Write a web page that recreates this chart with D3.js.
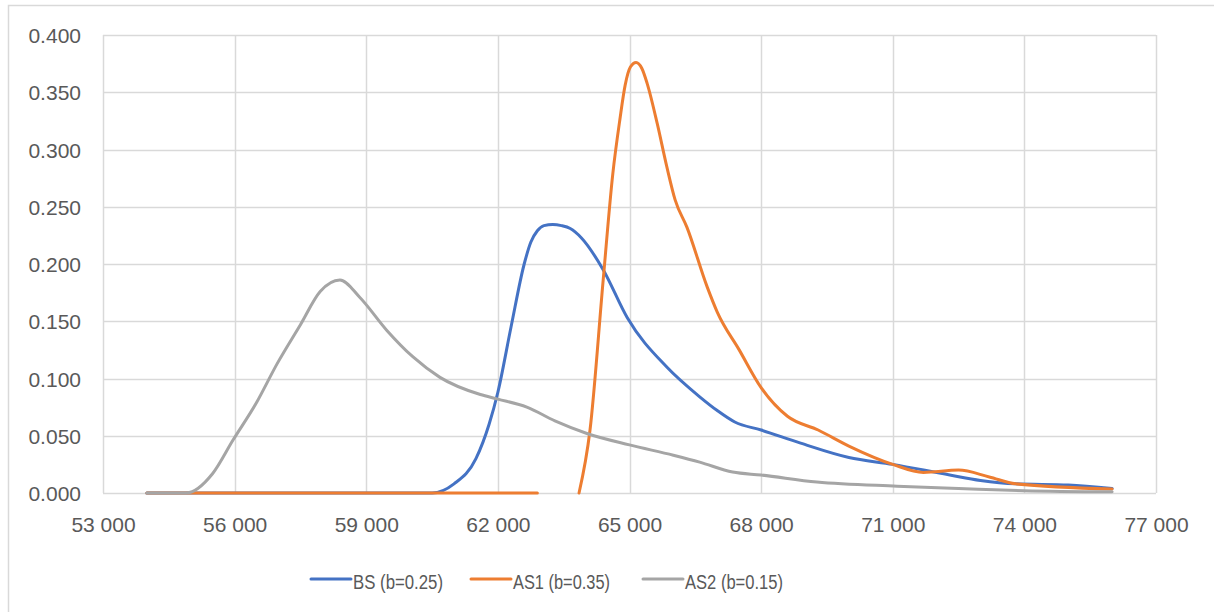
<!DOCTYPE html>
<html><head><meta charset="utf-8">
<script src="https://cdn.jsdelivr.net/npm/d3@7"></script>
<style>
html,body{margin:0;padding:0;background:#fff;}
svg{display:block;}
text{font-family:"Liberation Sans",Arial,sans-serif;fill:#595959;}
</style></head>
<body>
<svg id="chart" width="1214" height="612"></svg>
<script>
// ---- data ----
const xTicks = [53000,56000,59000,62000,65000,68000,71000,74000,77000];
const yTicks = [0,0.05,0.1,0.15,0.2,0.25,0.3,0.35,0.4];

const seriesNames = ["BS (b=0.25)","AS1 (b=0.35)","AS2 (b=0.15)"];
const seriesColors = ["#4472C4","#ED7D31","#A5A5A5"];

const bsX = [54000,60000,60500,61000,61500,61800,62000,62300,62600,62750,62900,63050,63250,63450,63650,63900,64400,64950,65850,66600,67000,67400,68000,68900,70000,71000,72300,73000,73800,75000,76000];
const bsY = [0,0,0,0.008,0.03,0.06,0.088,0.145,0.2,0.219,0.229,0.2335,0.2345,0.2335,0.231,0.223,0.195,0.153,0.11,0.084,0.072,0.062,0.055,0.0435,0.031,0.025,0.0157,0.011,0.008,0.007,0.004];

const as1X = [54000,62900,null,63850,64100,64400,64620,64780,64900,65020,65150,65280,65400,65630,65850,66040,66310,66770,67000,67500,68000,68600,69300,70000,71000,71700,72500,73200,73800,76000];
const as1Y = [0,0,null,0,0.055,0.186,0.279,0.326,0.356,0.372,0.376,0.371,0.358,0.323,0.285,0.256,0.232,0.18,0.158,0.125,0.092,0.067,0.055,0.041,0.025,0.018,0.02,0.014,0.008,0.0035];

const as2X = [54000,54900,55500,55960,56500,56970,57500,57950,58400,58850,59470,60060,60680,61600,62000,62660,63300,64030,65000,66000,66600,67350,68000,69270,71100,72500,74000,76000];
const as2Y = [0,0,0.017,0.046,0.079,0.113,0.147,0.176,0.186,0.171,0.142,0.119,0.101,0.086,0.082,0.075,0.063,0.052,0.042,0.033,0.027,0.0183,0.0157,0.0096,0.006,0.004,0.002,0.001];

const seriesX = [bsX, as1X, as2X];
const seriesY = [bsY, as1Y, as2Y];

// ---- layout ----
const svg = d3.select("#chart");
const plotL = 103, plotR = 1156, plotT = 35, plotB = 493;

svg.append("rect").attr("x",8.5).attr("y",5.5).attr("width",1220).attr("height",640)
  .attr("fill","#fff").attr("stroke","#D9D9D9").attr("stroke-width",1.5);

const x = d3.scaleLinear().domain([53000,77000]).range([plotL,plotR]);
const y = d3.scaleLinear().domain([0,0.4]).range([plotB,plotT]);

const fmtX = v => d3.format(",")(v).replace(",", " ");
const fmtY = d3.format(".3f");

// gridlines
const g = svg.append("g");
g.selectAll("line.v").data(xTicks).join("line")
  .attr("x1",d=>Math.round(x(d))+0.5).attr("x2",d=>Math.round(x(d))+0.5)
  .attr("y1",plotT).attr("y2",plotB)
  .attr("stroke","#D9D9D9").attr("stroke-width",1.5);
g.selectAll("line.h").data(yTicks).join("line")
  .attr("y1",d=>Math.round(y(d))+0.5).attr("y2",d=>Math.round(y(d))+0.5)
  .attr("x1",plotL).attr("x2",plotR)
  .attr("stroke","#D9D9D9").attr("stroke-width",1.5);

// axes labels via d3 axes
const xAxis = d3.axisBottom(x).tickValues(xTicks).tickFormat(fmtX).tickSize(0).tickPadding(0);
const ax = svg.append("g").attr("transform",`translate(0,${plotB})`).call(xAxis);
ax.select(".domain").remove();
ax.selectAll("text").attr("dy",null).attr("y",39).style("font-size","21px")
  .style("font-family","'Liberation Sans',Arial,sans-serif").attr("fill","#595959");

const yAxis = d3.axisLeft(y).tickValues(yTicks).tickFormat(fmtY).tickSize(0).tickPadding(0);
const ay = svg.append("g").attr("transform",`translate(${81},0)`).call(yAxis);
ay.select(".domain").remove();
ay.selectAll("text").attr("dy","0.36em").attr("x",0).style("font-size","21px")
  .style("font-family","'Liberation Sans',Arial,sans-serif").attr("fill","#595959");

// lines
seriesX.forEach((xs,i)=>{
  const pts = xs.map((v,j)=>[v, seriesY[i][j]]);
  const line = d3.line()
    .defined(d=>d[0]!==null && d[1]!==null)
    .x(d=>x(d[0])).y(d=>y(d[1]))
    .curve(d3.curveMonotoneX);
  svg.append("path").datum(pts)
    .attr("d",line).attr("fill","none")
    .attr("stroke",seriesColors[i]).attr("stroke-width",3)
    .attr("stroke-linejoin","round").attr("stroke-linecap","round");
});

// legend
const legendX = [310, 470, 642];
const legendW = [90, 97, 98];
const lg = svg.append("g");
seriesNames.forEach((n,i)=>{
  lg.append("line").attr("x1",legendX[i]+1).attr("x2",legendX[i]+41)
    .attr("y1",579).attr("y2",579)
    .attr("stroke",seriesColors[i]).attr("stroke-width",3).attr("stroke-linecap","round");
  lg.append("text").attr("x",legendX[i]+43).attr("y",589)
    .attr("textLength",legendW[i]).attr("lengthAdjust","spacingAndGlyphs")
    .style("font-size","20px").text(n);
});
</script>
</body></html>
